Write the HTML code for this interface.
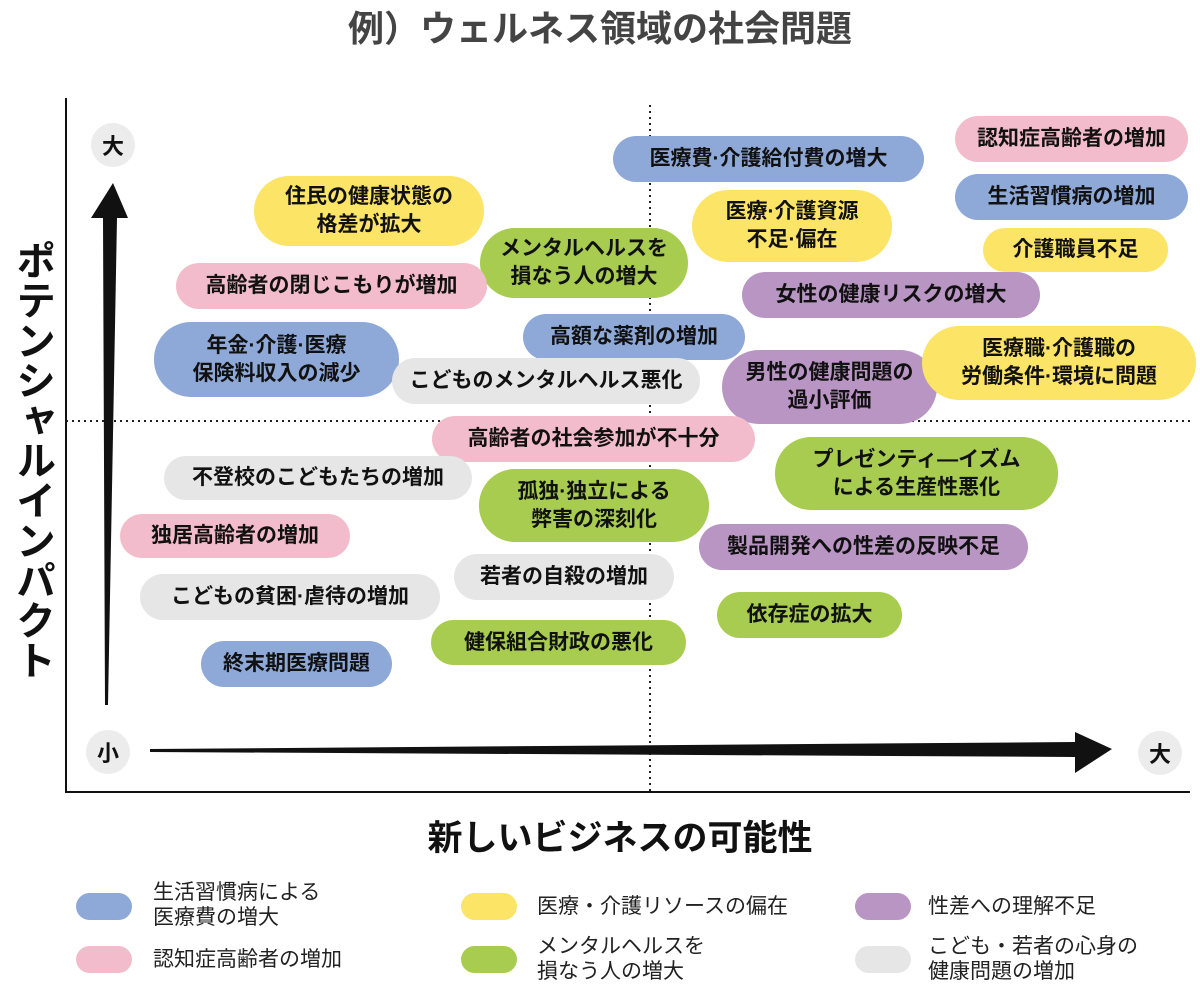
<!DOCTYPE html>
<html><head><meta charset="utf-8"><style>
*{margin:0;padding:0;box-sizing:border-box}
body{width:1200px;height:988px;background:#fff;position:relative;overflow:hidden;font-family:"Liberation Sans","Noto Sans CJK JP",sans-serif;color:#111}
.p{position:absolute;display:flex;align-items:center;justify-content:center;text-align:center;border-radius:24px;font-size:21px;font-weight:bold;line-height:28px;white-space:nowrap}
.b{background:#8ea9d8}.k{background:#f3bccc}.y{background:#fbe466}.g{background:#a7cc4f}.u{background:#b995c4}.e{background:#e6e6e6}
.sw{position:absolute;width:56px;height:27px;border-radius:14px}
.lt{position:absolute;font-size:21px;line-height:25px;color:#222}
.c{position:absolute;width:44px;height:44px;border-radius:22px;background:#ececec;display:flex;align-items:center;justify-content:center;font-size:22px;font-weight:bold}
</style></head><body>
<div style="position:absolute;left:0;width:1200px;top:0px;text-align:center;font-size:36px;font-weight:bold;color:#444">例）ウェルネス領域の社会問題</div>
<svg style="position:absolute;left:0;top:0" width="1200" height="988">
<line x1="66" y1="98" x2="66" y2="793" stroke="#111" stroke-width="2"/>
<line x1="65" y1="792" x2="1190" y2="792" stroke="#111" stroke-width="2"/>
<line x1="650" y1="105" x2="650" y2="792" stroke="#222" stroke-width="2" stroke-dasharray="2,4"/>
<line x1="66" y1="421" x2="1192" y2="421" stroke="#222" stroke-width="2" stroke-dasharray="2,4"/>
<polygon points="105,705 108,705 117,218 128,218 113,183 91,218 103,218" fill="#111"/>
<polygon points="150,749 150,752 1075,757 1075,773 1112,749 1075,732 1075,742" fill="#111"/>
</svg>
<div class="c" style="left:91px;top:123px">大</div>
<div class="c" style="left:86px;top:730px">小</div>
<div class="c" style="left:1138px;top:731px">大</div>
<div style="position:absolute;left:9px;top:240px;width:46px;writing-mode:vertical-rl;font-size:40px;font-weight:bold;line-height:46px">ポテンシャルインパクト</div>
<div style="position:absolute;left:400px;top:810px;width:440px;text-align:center;font-size:35px;font-weight:bold">新しいビジネスの可能性</div>

<div class="p b" style="left:613px;top:136px;width:311px;height:46px">医療費·介護給付費の増大</div>
<div class="p k" style="left:955px;top:116px;width:233px;height:46px">認知症高齢者の増加</div>
<div class="p b" style="left:955px;top:174px;width:233px;height:46px">生活習慣病の増加</div>
<div class="p y" style="left:254px;top:176px;width:230px;height:70px;border-radius:35px">住民の健康状態の<br>格差が拡大</div>
<div class="p y" style="left:692px;top:190px;width:200px;height:72px;border-radius:36px">医療·介護資源<br>不足·偏在</div>
<div class="p y" style="left:983px;top:228px;width:185px;height:44px">介護職員不足</div>
<div class="p g" style="left:480px;top:228px;width:208px;height:70px;border-radius:35px">メンタルヘルスを<br>損なう人の増大</div>
<div class="p k" style="left:176px;top:263px;width:311px;height:46px">高齢者の閉じこもりが増加</div>
<div class="p u" style="left:742px;top:272px;width:298px;height:46px">女性の健康リスクの増大</div>
<div class="p b" style="left:154px;top:322px;width:245px;height:75px;border-radius:37px">年金·介護·医療<br>保険料収入の減少</div>
<div class="p b" style="left:523px;top:314px;width:222px;height:46px">高額な薬剤の増加</div>
<div class="p e" style="left:392px;top:358px;width:308px;height:46px">こどものメンタルヘルス悪化</div>
<div class="p u" style="left:722px;top:350px;width:215px;height:74px;border-radius:37px">男性の健康問題の<br>過小評価</div>
<div class="p y" style="left:922px;top:326px;width:274px;height:74px;border-radius:37px">医療職·介護職の<br>労働条件·環境に問題</div>
<div class="p k" style="left:432px;top:416px;width:323px;height:46px">高齢者の社会参加が不十分</div>
<div class="p e" style="left:164px;top:456px;width:308px;height:44px">不登校のこどもたちの増加</div>
<div class="p g" style="left:775px;top:437px;width:283px;height:73px;border-radius:36px">プレゼンティ―イズム<br>による生産性悪化</div>
<div class="p g" style="left:479px;top:469px;width:230px;height:73px;border-radius:36px">孤独·独立による<br>弊害の深刻化</div>
<div class="p k" style="left:120px;top:514px;width:230px;height:44px">独居高齢者の増加</div>
<div class="p u" style="left:699px;top:524px;width:329px;height:46px">製品開発への性差の反映不足</div>
<div class="p e" style="left:454px;top:554px;width:220px;height:46px">若者の自殺の増加</div>
<div class="p e" style="left:140px;top:574px;width:300px;height:46px">こどもの貧困·虐待の増加</div>
<div class="p g" style="left:717px;top:592px;width:185px;height:46px">依存症の拡大</div>
<div class="p g" style="left:431px;top:620px;width:255px;height:45px">健保組合財政の悪化</div>
<div class="p b" style="left:201px;top:641px;width:191px;height:46px">終末期医療問題</div>

<div class="sw b" style="left:76px;top:893px"></div>
<div class="lt" style="left:153px;top:880px">生活習慣病による<br>医療費の増大</div>
<div class="sw k" style="left:76px;top:946px"></div>
<div class="lt" style="left:153px;top:947px">認知症高齢者の増加</div>
<div class="sw y" style="left:461px;top:893px"></div>
<div class="lt" style="left:537px;top:894px">医療・介護リソースの偏在</div>
<div class="sw g" style="left:461px;top:946px"></div>
<div class="lt" style="left:537px;top:934px">メンタルヘルスを<br>損なう人の増大</div>
<div class="sw u" style="left:855px;top:893px"></div>
<div class="lt" style="left:928px;top:894px">性差への理解不足</div>
<div class="sw e" style="left:855px;top:946px"></div>
<div class="lt" style="left:928px;top:934px">こども・若者の心身の<br>健康問題の増加</div>
</body></html>
